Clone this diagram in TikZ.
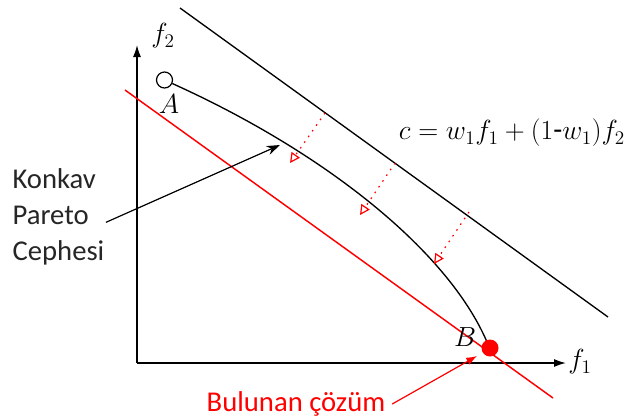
\documentclass[tikz,border=0pt]{standalone}
\usepackage{fontspec}
\setmainfont{Carlito}
\usetikzlibrary{arrows.meta}

\begin{document}
\begin{tikzpicture}[x=0.75pt,y=-0.75pt,>=Latex]
  \tikzset{
    axis/.style={->, line width=1.1pt, >={Latex[length=9pt,width=6pt]}},
    level/.style={line width=1pt},
    probe/.style={red, line width=0.9pt, dash pattern=on 1.2pt off 4pt,
      -{Triangle[open,length=7.5pt,width=7.5pt]}},
    lbl/.style={font=\fontsize{20}{24}\selectfont, inner sep=0pt},
    note/.style={font=\fontsize{21.5}{27}\selectfont, align=left, inner sep=1pt}
  }
  \useasboundingbox (0,0) rectangle (638,419);
  % axes
  \coordinate (origin) at (137,363);
  \coordinate (f2tip) at (137,45);
  \coordinate (f1tip) at (566,363);
  \draw[axis] (origin) -- (f2tip);
  \draw[axis] (origin) -- (f1tip);
  \node[lbl] (f2lab) at (163,36) {$f_2$};
  \node[lbl] (f1lab) at (580,362) {$f_1$};
  % level lines
  \draw[level] (180,8) -- (608,317);
  \draw[red, line width=1.1pt] (125,90) -- (553,398);
  \node[lbl] (eq) at (512,133) {\fontsize{22}{26}\selectfont$c = w_1 f_1 + (1\mbox{-}w_1) f_2$};
  % pareto front
  \node[circle, draw, fill=white, line width=0.9pt, minimum size=12pt, inner sep=0pt] (ptA) at (164.5,80) {};
  \draw[level] (ptA) .. controls (322,151) and (447,249) .. (487,342);
  \node[circle, fill=red, minimum size=12.75pt, inner sep=0pt] (ptB) at (490,348) {};
  \node[lbl] (labA) at (169,104) {$A$};
  \node[lbl] (labB) at (465,337) {$B$};
  % shifting the line
  \foreach \sx/\sy/\ex/\ey in {325/113/290/163, 395/163/360/215, 469/212/434/264}
    \draw[probe] (\sx,\sy) -- (\ex,\ey);
  % notes
  \node[note, anchor=west, text=black!85] (konkav) at (11,217) {Konkav\\Pareto\\Cephesi};
  \coordinate (konkavtip) at (280,145);
  \draw[->, line width=0.9pt, >={Stealth[length=10pt,width=7pt]}] ([yshift=-4pt]konkav.east) -- (konkavtip);
  \node[note, text=red] (bulunan) at (296,404) {Bulunan çözüm};
  \coordinate (bulunantip) at (477,356);
  \draw[->, red, line width=0.9pt, >={Latex[length=8pt,width=6pt]}] ([xshift=4pt]bulunan.east) -- (bulunantip);
\end{tikzpicture}
\end{document}
